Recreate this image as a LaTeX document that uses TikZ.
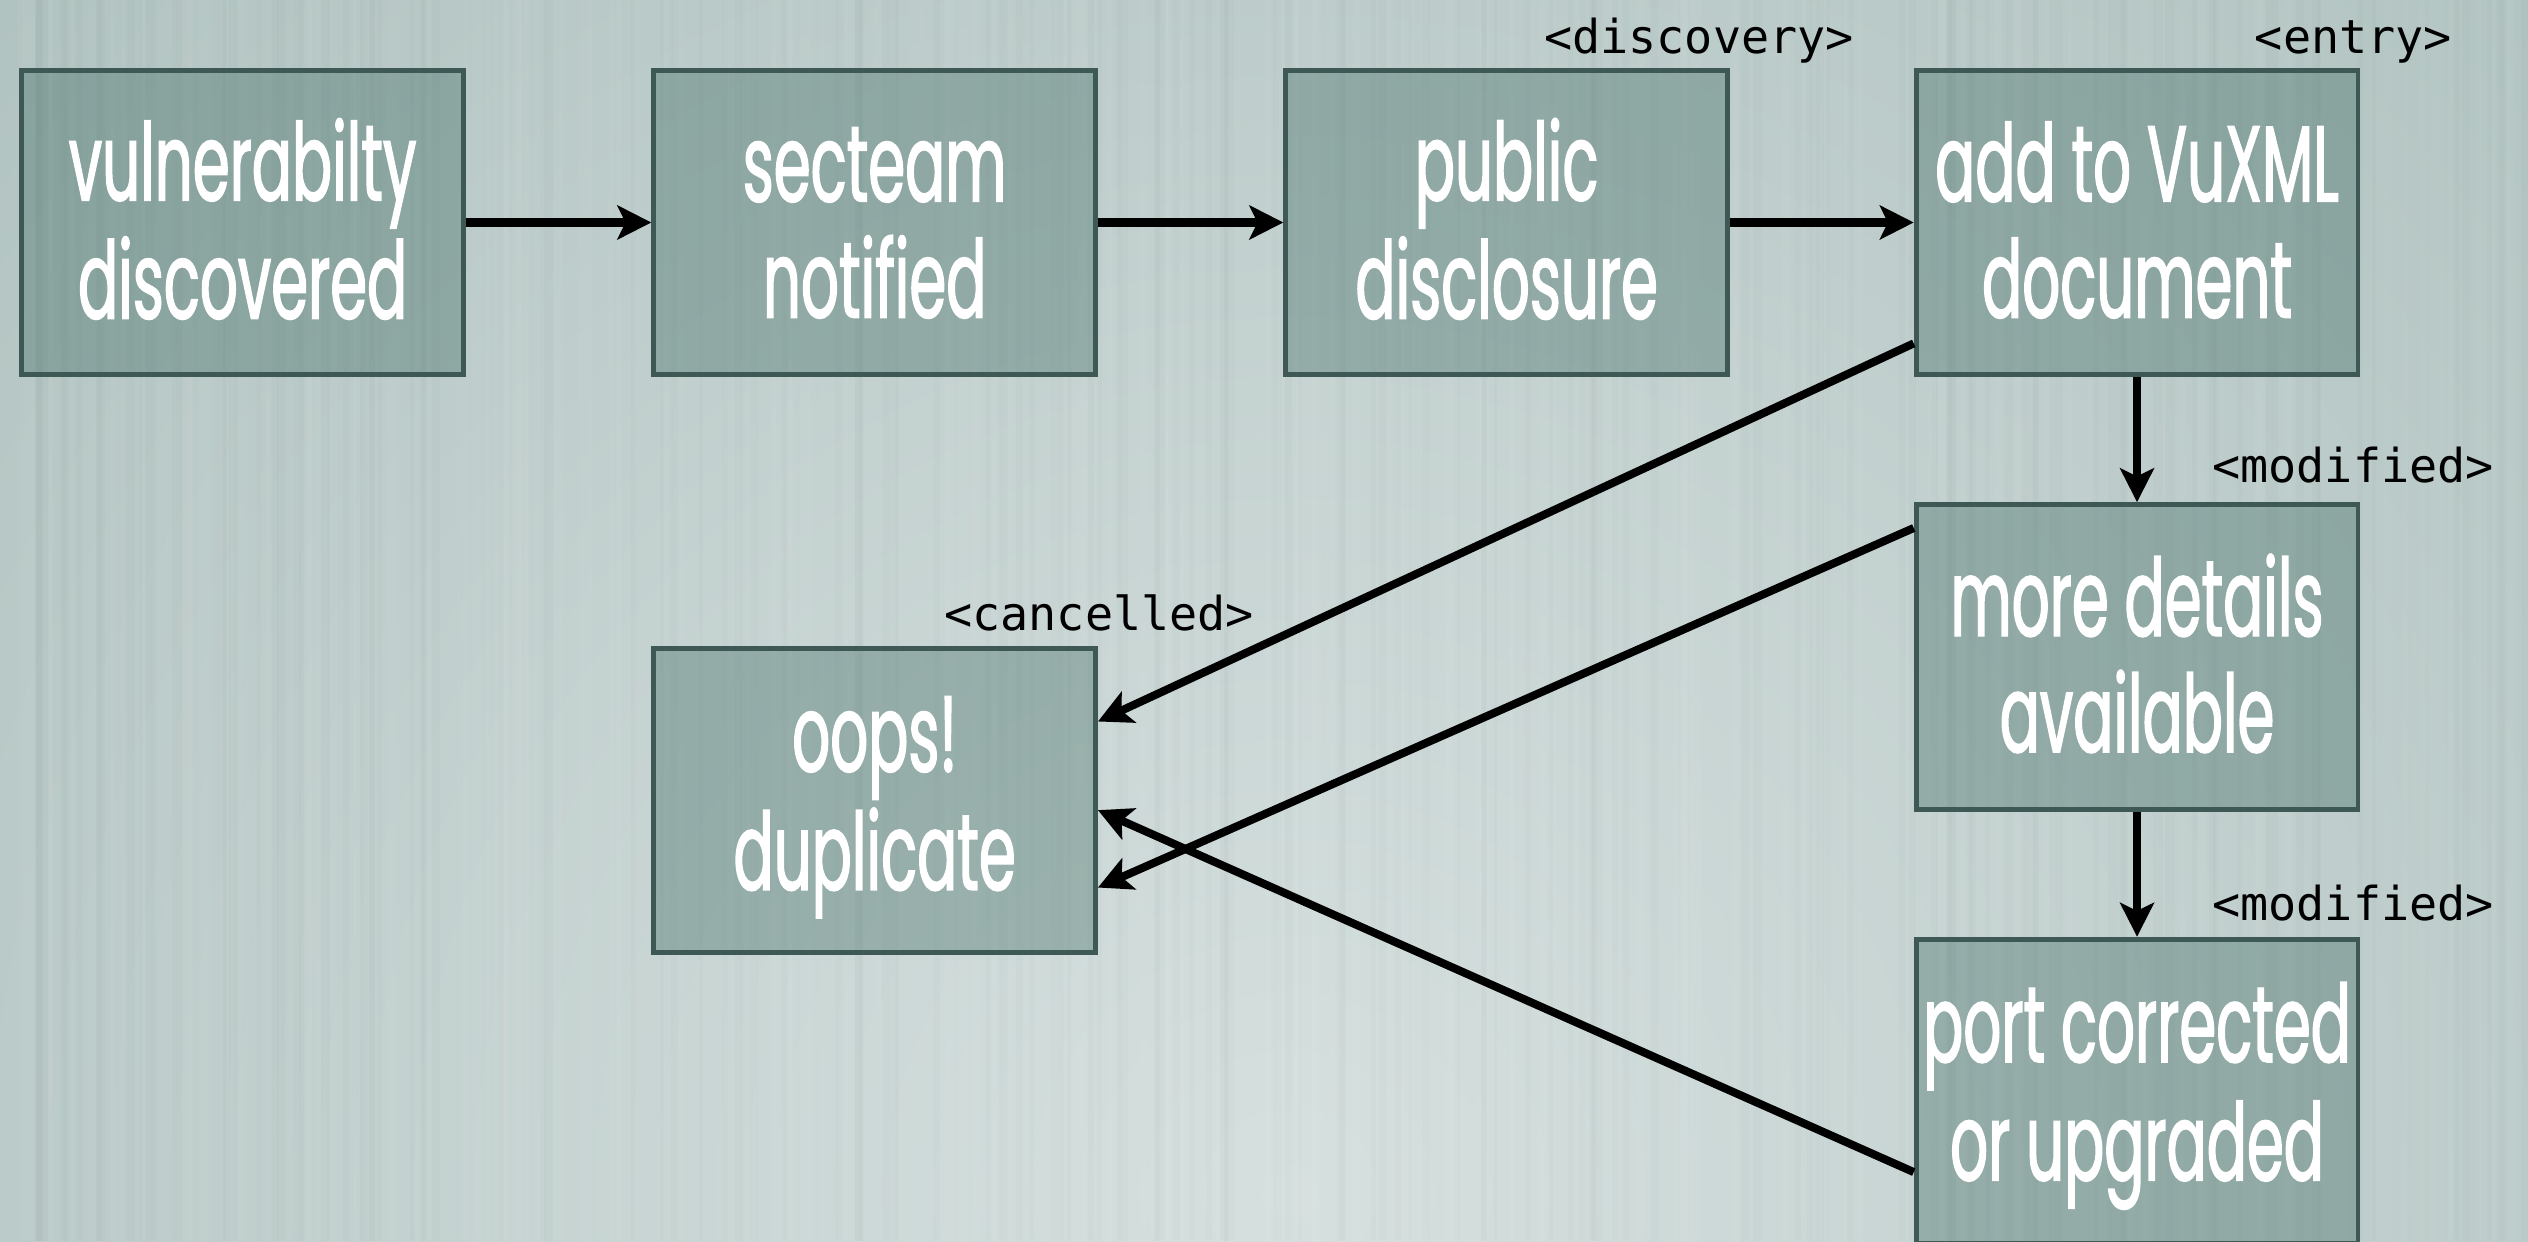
\documentclass[tikz,border=0pt]{standalone}
\usepackage{fontspec}
\setmainfont{Poppins}[FakeStretch=0.55, FakeBold=1.3]
\newfontfamily\monofont{DejaVu Sans Mono}
\usetikzlibrary{arrows.meta}
\definecolor{bgdark}{RGB}{163,184,181}
\definecolor{bglight}{RGB}{214,224,223}
\definecolor{boxfill}{RGB}{52,97,88}
\definecolor{boxline}{RGB}{62,88,86}
\newcommand\bstrut{\rule[-9pt]{0pt}{64pt}}
\begin{document}
\begin{tikzpicture}[x=1pt,y=-1pt,
  flowbox/.style={draw=boxline, line width=3pt, fill=boxfill, fill opacity=0.34,
    text opacity=1, text=white, minimum width=274pt, minimum height=189pt,
    inner sep=0pt, align=center, font=\fontsize{67}{72}\selectfont},
  tag/.style={font=\monofont\fontsize{29}{32}\selectfont, text=black, inner sep=0pt},
  flow/.style={line width=5pt, draw=black, -{Stealth[length=21pt,width=21pt,inset=5pt]}}]
\useasboundingbox (0,0) rectangle (1568,770);
\fill[bgdark] (0,0) rectangle (1568,770);
\begin{scope}
  \clip (0,0) rectangle (1568,770);
  \shade[inner color=bglight, outer color=bgdark] (800,740) circle (1500pt);
  \pgfmathsetseed{42}
  \foreach \i in {1,...,240}{
    \pgfmathsetmacro{\sx}{rnd*1568}
    \pgfmathsetmacro{\sw}{2+rnd*4}
    \pgfmathsetmacro{\so}{0.015+0.025*rnd}
    \fill[white,opacity=\so] (\sx,0) rectangle ++(\sw,770);
  }
  \foreach \i in {1,...,140}{
    \pgfmathsetmacro{\sx}{rnd*1568}
    \pgfmathsetmacro{\sw}{2+rnd*4}
    \fill[black,opacity=0.012] (\sx,0) rectangle ++(\sw,770);
  }
\end{scope}

\node[flowbox] (vuln) at (150.5,138) {\bstrut vulnerabilty\\discovered\bstrut};
\node[flowbox] (secteam) at (542.5,138) {\bstrut secteam\\notified\bstrut};
\node[flowbox] (public) at (934.5,138) {\bstrut public\\disclosure\bstrut};
\node[flowbox] (add) at (1325.5,138) {\bstrut add to VuXML\\document\bstrut};
\node[flowbox] (more) at (1325.5,407.5) {\bstrut more details\\available\bstrut};
\node[flowbox] (port) at (1325.5,677) {\bstrut port corrected\\or upgraded\bstrut};
\node[flowbox] (oops) at (542.5,496.5) {\bstrut oops!\\duplicate\bstrut};

\node[tag, anchor=base east] (tdisc) at (1150,33) {<discovery>};
\node[tag, anchor=base east] (tentry) at (1521,33) {<entry>};
\node[tag, anchor=base east] (tmod1) at (1547,299) {<modified>};
\node[tag, anchor=base east] (tmod2) at (1547,571) {<modified>};
\node[tag, anchor=base east] (tcanc) at (778,391) {<cancelled>};

\draw[flow] (vuln.east) -- (secteam.west);
\draw[flow] (secteam.east) -- (public.west);
\draw[flow] (public.east) -- (add.west);
\draw[flow] (add.south) -- (more.north);
\draw[flow] (more.south) -- (port.north);
\draw[flow] ([yshift=21pt]add.south west) -- ([yshift=-47pt]oops.north east);
\draw[flow] ([yshift=-16pt]more.north west) -- ([yshift=42pt]oops.south east);
\draw[flow] ([yshift=-146pt]port.north west) -- ([yshift=-102pt]oops.north east);
\end{tikzpicture}
\end{document}
